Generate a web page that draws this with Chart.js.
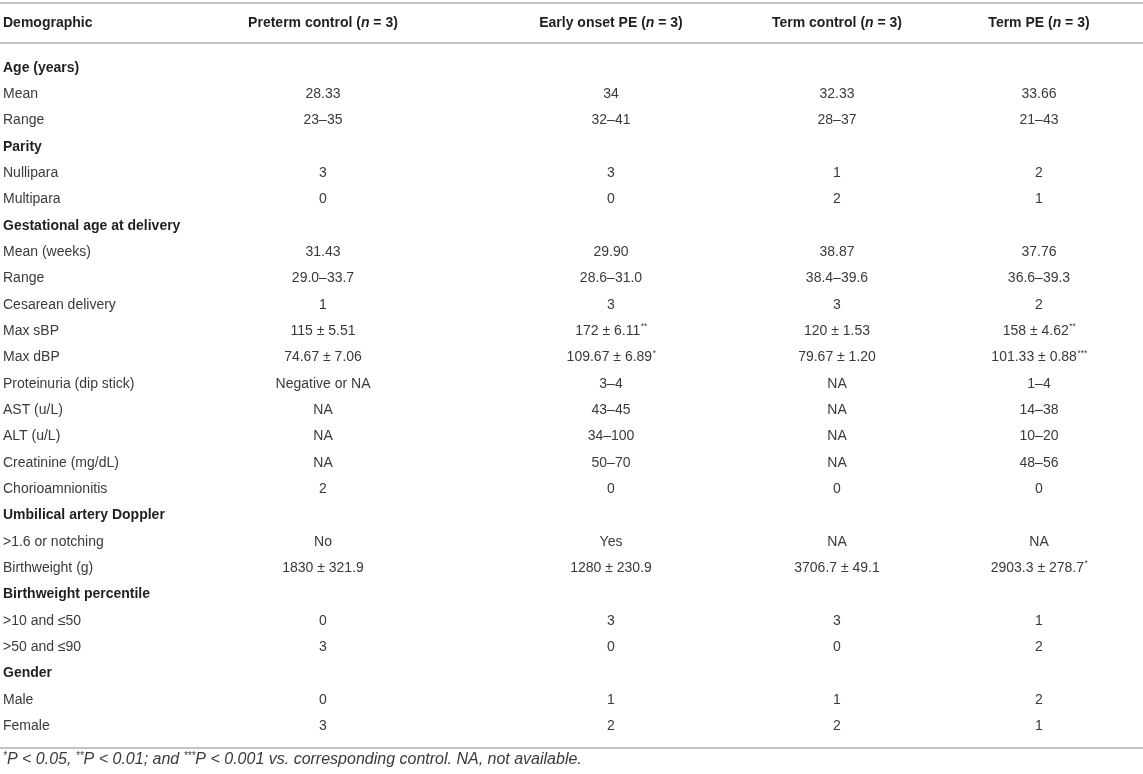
<!DOCTYPE html>
<html>
<head>
<meta charset="utf-8">
<script src="https://cdn.jsdelivr.net/npm/chart.js@4.4.0/dist/chart.umd.min.js"></script>
<style>
  html, body { margin: 0; padding: 0; background: #fff; }
  #wrap { width: 1143px; height: 774px; position: relative; }
</style>
</head>
<body>
<div id="wrap"><canvas id="tableChart"></canvas></div>
<script>
// row labels (section headers are listed in sectionRows)
var rowLabels = [
  "Age (years)", "Mean", "Range",
  "Parity", "Nullipara", "Multipara",
  "Gestational age at delivery", "Mean (weeks)", "Range", "Cesarean delivery",
  "Max sBP", "Max dBP", "Proteinuria (dip stick)", "AST (u/L)", "ALT (u/L)",
  "Creatinine (mg/dL)", "Chorioamnionitis",
  "Umbilical artery Doppler", ">1.6 or notching", "Birthweight (g)",
  "Birthweight percentile", ">10 and \u226450", ">50 and \u226490",
  "Gender", "Male", "Female"
];
var sectionRows = [0, 3, 6, 17, 20, 23];

var groupNames = ["Preterm control", "Early onset PE", "Term control", "Term PE"];
var groupN = [3, 3, 3, 3];

var pretermControl = ["", "28.33", "23\u201335", "", "3", "0", "", "31.43", "29.0\u201333.7", "1",
  "115 \u00b1 5.51", "74.67 \u00b1 7.06", "Negative or NA", "NA", "NA", "NA", "2",
  "", "No", "1830 \u00b1 321.9", "", "0", "3", "", "0", "3"];
var earlyOnsetPE = ["", "34", "32\u201341", "", "3", "0", "", "29.90", "28.6\u201331.0", "3",
  "172 \u00b1 6.11**", "109.67 \u00b1 6.89*", "3\u20134", "43\u201345", "34\u2013100", "50\u201370", "0",
  "", "Yes", "1280 \u00b1 230.9", "", "3", "0", "", "1", "2"];
var termControl = ["", "32.33", "28\u201337", "", "1", "2", "", "38.87", "38.4\u201339.6", "3",
  "120 \u00b1 1.53", "79.67 \u00b1 1.20", "NA", "NA", "NA", "NA", "0",
  "", "NA", "3706.7 \u00b1 49.1", "", "3", "0", "", "1", "2"];
var termPE = ["", "33.66", "21\u201343", "", "2", "1", "", "37.76", "36.6\u201339.3", "2",
  "158 \u00b1 4.62**", "101.33 \u00b1 0.88***", "1\u20134", "14\u201338", "10\u201320", "48\u201356", "0",
  "", "NA", "2903.3 \u00b1 278.7*", "", "1", "2", "", "2", "1"];

var columns = [pretermControl, earlyOnsetPE, termControl, termPE];

// layout
var colX = [323, 611, 837, 1039];
var labelX = 3;
var FONT = "'Liberation Sans', Arial, sans-serif";
var TEXT = "#3a3a3a";
var HEAD = "#1f1f1f";
var RULE = "#c4c4c4";

function splitStars(s) {
  var m = s.match(/^(.*?)(\*+)$/);
  return m ? [m[1], m[2]] : [s, ""];
}

// draws text with trailing superscript asterisks, centred or left aligned
function drawCell(ctx, s, x, y, size, align) {
  var parts = splitStars(s);
  ctx.font = size + "px " + FONT;
  var w1 = ctx.measureText(parts[0]).width;
  ctx.font = (size * 0.6) + "px " + FONT;
  var w2 = ctx.measureText(parts[1]).width;
  var x0 = align === "center" ? x - (w1 + w2) / 2 : x;
  ctx.textAlign = "left";
  ctx.textBaseline = "middle";
  ctx.font = size + "px " + FONT;
  ctx.fillText(parts[0], x0, y);
  if (parts[1]) {
    ctx.font = (size * 0.6) + "px " + FONT;
    ctx.fillText(parts[1], x0 + w1 + 0.5, y - size * 0.3);
  }
}

function drawRuns(ctx, runs, x, y, align) {
  var total = 0;
  runs.forEach(function (r) { ctx.font = r.font; total += ctx.measureText(r.t).width; });
  var cx = align === "center" ? x - total / 2 : x;
  ctx.textAlign = "left";
  ctx.textBaseline = "middle";
  runs.forEach(function (r) {
    ctx.font = r.font;
    ctx.fillText(r.t, cx, y + (r.dy || 0));
    cx += ctx.measureText(r.t).width;
  });
}

var tablePlugin = {
  id: "tablePlugin",
  afterDatasetsDraw: function (chart) {
    var ctx = chart.ctx;
    var yScale = chart.scales.y;
    var xScale = chart.scales.x;
    var top = yScale.getPixelForValue(0);
    var bottom = yScale.getPixelForValue(rowLabels.length - 1);
    ctx.save();

    // rules
    ctx.strokeStyle = RULE;
    ctx.lineWidth = 2;
    [3, top - 25, bottom + 22].forEach(function (y) {
      ctx.beginPath();
      ctx.moveTo(xScale.left, y);
      ctx.lineTo(xScale.right, y);
      ctx.stroke();
    });

    // header row
    var headY = 23;
    var bold = "bold 14px " + FONT;
    var boldIt = "italic bold 14px " + FONT;
    ctx.fillStyle = HEAD;
    drawRuns(ctx, [{ t: "Demographic", font: bold }], labelX, headY, "left");
    groupNames.forEach(function (g, i) {
      var hx = xScale.getPixelForValue(colX[i]);
      drawRuns(ctx, [
        { t: g + " (", font: bold },
        { t: "n", font: boldIt },
        { t: " = " + groupN[i] + ")", font: bold }
      ], hx, headY, "center");
    });

    // row labels
    rowLabels.forEach(function (lab, r) {
      var y = yScale.getPixelForValue(r);
      if (sectionRows.indexOf(r) >= 0) {
        ctx.fillStyle = HEAD;
        drawRuns(ctx, [{ t: lab, font: bold }], labelX, y, "left");
      } else {
        ctx.fillStyle = TEXT;
        drawRuns(ctx, [{ t: lab, font: "14px " + FONT }], labelX, y, "left");
      }
    });

    // cells, placed at each dataset point
    ctx.fillStyle = TEXT;
    chart.data.datasets.forEach(function (ds, di) {
      var meta = chart.getDatasetMeta(di);
      meta.data.forEach(function (pt, r) {
        var s = columns[di][r];
        if (s) drawCell(ctx, s, pt.x, pt.y, 14, "center");
      });
    });

    // footnote
    var fy = bottom + 34;
    var it = "italic 16px " + FONT;
    var sup = "italic 10px " + FONT;
    ctx.fillStyle = TEXT;
    drawRuns(ctx, [
      { t: "*", font: sup, dy: -4 }, { t: "P < 0.05, ", font: it },
      { t: "**", font: sup, dy: -4 }, { t: "P < 0.01; and ", font: it },
      { t: "***", font: sup, dy: -4 }, { t: "P < 0.001 vs. corresponding control. NA, not available.", font: it }
    ], labelX, fy, "left");

    ctx.restore();
  }
};

var datasets = columns.map(function (col, i) {
  return {
    label: groupNames[i],
    data: rowLabels.map(function (lab, r) { return { x: colX[i], y: r }; }),
    pointRadius: 0,
    showLine: false
  };
});

new Chart(document.getElementById("tableChart"), {
  type: "scatter",
  data: { datasets: datasets },
  options: {
    responsive: true,
    maintainAspectRatio: false,
    animation: false,
    layout: { padding: { top: 68, bottom: 48, left: 0, right: 0 } },
    plugins: { legend: { display: false }, tooltip: { enabled: false } },
    scales: {
      x: { type: "linear", min: 0, max: 1143, display: false },
      y: { type: "linear", min: 0, max: rowLabels.length - 1, reverse: true, display: false }
    }
  },
  plugins: [tablePlugin]
});
</script>
</body>
</html>
